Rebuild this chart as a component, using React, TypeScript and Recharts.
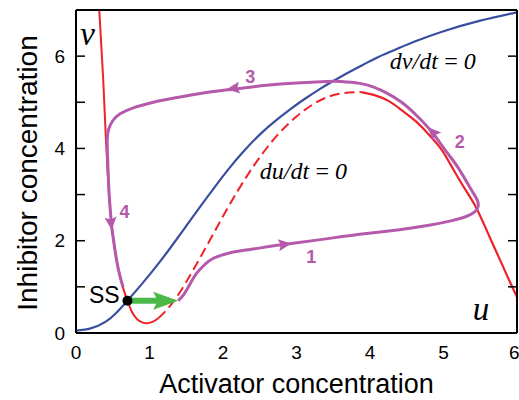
import React from 'react';
import { ComposedChart, Line, Scatter, XAxis, YAxis, Label } from 'recharts';

// ---------- data ----------
const X_DOMAIN = [0, 6];
const Y_DOMAIN = [0, 7];
const X_TICKS = [0, 1, 2, 3, 4, 5, 6];
const Y_TICKS = [0, 1, 2, 3, 4, 5, 6, 7];
const Y_LABEL_TICKS = [0, 2, 4, 6];

// dv/dt = 0 nullcline
const BLUE_NULLCLINE = [
  { x: 0, y: 0.05 }, { x: 0.2, y: 0.1 }, { x: 0.4, y: 0.24 }, { x: 0.55, y: 0.44 },
  { x: 0.7, y: 0.7 }, { x: 0.9, y: 1.07 }, { x: 1.1, y: 1.46 }, { x: 1.3, y: 1.88 },
  { x: 1.5, y: 2.32 }, { x: 1.7, y: 2.76 }, { x: 1.9, y: 3.19 }, { x: 2.1, y: 3.6 },
  { x: 2.3, y: 3.97 }, { x: 2.5, y: 4.3 }, { x: 2.7, y: 4.58 }, { x: 2.9, y: 4.83 },
  { x: 3.1, y: 5.06 }, { x: 3.3, y: 5.27 }, { x: 3.5, y: 5.46 }, { x: 3.7, y: 5.64 },
  { x: 3.9, y: 5.81 }, { x: 4.1, y: 5.97 }, { x: 4.3, y: 6.11 }, { x: 4.6, y: 6.31 },
  { x: 5.0, y: 6.54 }, { x: 5.5, y: 6.77 }, { x: 6.0, y: 6.95 },
];

// du/dt = 0 nullcline: left stable branch, unstable middle (dashed), right stable branch
const RED_LEFT = [
  { x: 0.317, y: 7.0 }, { x: 0.345, y: 6.2 }, { x: 0.37, y: 5.5 }, { x: 0.39, y: 4.8 },
  { x: 0.41, y: 4.1 }, { x: 0.43, y: 3.5 }, { x: 0.45, y: 3.0 }, { x: 0.475, y: 2.5 },
  { x: 0.51, y: 2.02 }, { x: 0.55, y: 1.6 }, { x: 0.6, y: 1.22 }, { x: 0.65, y: 0.93 },
  { x: 0.7, y: 0.7 }, { x: 0.76, y: 0.46 }, { x: 0.83, y: 0.3 }, { x: 0.9, y: 0.23 },
  { x: 0.96, y: 0.21 }, { x: 1.04, y: 0.24 }, { x: 1.12, y: 0.32 },
];
const RED_MIDDLE = [
  { x: 1.12, y: 0.32 }, { x: 1.25, y: 0.53 }, { x: 1.42, y: 0.9 }, { x: 1.6, y: 1.38 },
  { x: 1.8, y: 1.95 }, { x: 2.0, y: 2.53 }, { x: 2.2, y: 3.08 }, { x: 2.4, y: 3.58 },
  { x: 2.6, y: 4.02 }, { x: 2.8, y: 4.39 }, { x: 3.0, y: 4.69 }, { x: 3.2, y: 4.93 },
  { x: 3.4, y: 5.1 }, { x: 3.6, y: 5.19 }, { x: 3.8, y: 5.22 }, { x: 3.88, y: 5.22 },
];
const RED_RIGHT = [
  { x: 3.88, y: 5.22 }, { x: 4.05, y: 5.16 }, { x: 4.25, y: 5.03 }, { x: 4.43, y: 4.83 },
  { x: 4.63, y: 4.58 }, { x: 4.8, y: 4.3 }, { x: 4.975, y: 3.97 }, { x: 5.15, y: 3.5 },
  { x: 5.3, y: 3.1 }, { x: 5.45, y: 2.7 }, { x: 5.6, y: 2.18 }, { x: 5.75, y: 1.65 },
  { x: 5.9, y: 1.12 }, { x: 6.0, y: 0.78 },
];

// excitation trajectory (phases 1-4)
const TRAJECTORY = [
  { x: 1.39, y: 0.7 }, { x: 1.46, y: 0.82 }, { x: 1.54, y: 1.03 }, { x: 1.64, y: 1.29 },
  { x: 1.75, y: 1.48 }, { x: 1.87, y: 1.62 }, { x: 2.1, y: 1.74 }, { x: 2.37, y: 1.81 },
  { x: 2.65, y: 1.88 }, { x: 2.93, y: 1.94 }, { x: 3.4, y: 2.04 }, { x: 3.86, y: 2.14 },
  { x: 4.4, y: 2.24 }, { x: 4.82, y: 2.34 }, { x: 5.1, y: 2.43 }, { x: 5.3, y: 2.52 },
  { x: 5.42, y: 2.62 }, { x: 5.47, y: 2.74 }, { x: 5.46, y: 2.88 }, { x: 5.38, y: 3.1 },
  { x: 5.2, y: 3.58 }, { x: 5.02, y: 3.97 }, { x: 4.84, y: 4.36 }, { x: 4.63, y: 4.72 },
  { x: 4.43, y: 5.0 }, { x: 4.23, y: 5.2 }, { x: 4.05, y: 5.33 }, { x: 3.86, y: 5.41 },
  { x: 3.6, y: 5.45 }, { x: 3.41, y: 5.45 }, { x: 3.0, y: 5.42 }, { x: 2.59, y: 5.37 },
  { x: 2.07, y: 5.27 }, { x: 1.69, y: 5.19 }, { x: 1.23, y: 5.06 }, { x: 1.0, y: 4.98 },
  { x: 0.78, y: 4.88 }, { x: 0.6, y: 4.75 }, { x: 0.5, y: 4.6 }, { x: 0.445, y: 4.42 },
  { x: 0.425, y: 4.2 }, { x: 0.43, y: 3.8 }, { x: 0.445, y: 3.2 }, { x: 0.46, y: 2.8 },
  { x: 0.486, y: 2.3 }, { x: 0.51, y: 2.02 }, { x: 0.55, y: 1.6 }, { x: 0.6, y: 1.22 },
  { x: 0.64, y: 1.0 },
];

// arrowheads on trajectory: tip + direction (data units)
const TRAJ_ARROWS = [
  { x: 2.93, y: 1.94, dx: 1, dy: 0.21 },
  { x: 4.79, y: 4.46, dx: -1, dy: 1.7 },
  { x: 2.05, y: 5.28, dx: -1, dy: -0.21 },
  { x: 0.486, y: 2.23, dx: 0.06, dy: -1 },
];
const PHASE_LABELS = [
  { x: 3.2, y: 1.51, text: '1' },
  { x: 5.22, y: 4.0, text: '2' },
  { x: 2.37, y: 5.41, text: '3' },
  { x: 0.66, y: 2.49, text: '4' },
];

const STEADY_STATE = [{ x: 0.7, y: 0.7 }];
const PERTURBATION = [{ x: 0.7, y: 0.7 }, { x: 1.39, y: 0.7 }];
const PERTURBATION_TIP = [{ x: 1.39, y: 0.7, dx: 1, dy: 0 }];
const SS_LABEL = [{ x: 0.384, y: 0.644, text: 'SS' }];
const VAR_LABELS = [
  { x: 0.156, y: 6.24, text: 'v' },
  { x: 5.51, y: 0.28, text: 'u' },
];
const NULLCLINE_LABELS = [
  { x: 4.27, y: 5.72, text: 'dv/dt\u2009=\u20090' },
  { x: 2.5, y: 3.34, text: 'du/dt\u2009=\u20090' },
];

// ---------- layout / style ----------
const W = 519;
const H = 400;
const MARGIN = { top: 10, right: 2, bottom: 0, left: 0 };
const Y_AXIS_W = 76;
const X_AXIS_H = 67;
const PLOT_W = W - MARGIN.left - MARGIN.right - Y_AXIS_W;
const PLOT_H = H - MARGIN.top - MARGIN.bottom - X_AXIS_H;
const PX_X = PLOT_W / (X_DOMAIN[1] - X_DOMAIN[0]);
const PX_Y = PLOT_H / (Y_DOMAIN[1] - Y_DOMAIN[0]);

const SANS = '"Liberation Sans", Arial, Helvetica, sans-serif';
const SERIF = '"Liberation Serif", "Times New Roman", serif';
const RED = '#ee2229';
const BLUE = '#3a4ea0';
const MAGENTA = '#b55aab';
const GREEN = '#4cb848';

const EmptyTick = () => <g />;

const arrowShape = (color: string, len: number, half: number) => (props: any) => {
  const { cx, cy, payload } = props;
  if (cx == null || cy == null) return <g />;
  const ang = (Math.atan2(-payload.dy * PX_Y, payload.dx * PX_X) * 180) / Math.PI;
  return (
    <polygon
      points={`0,0 ${-len},${-half} ${-len * 0.82},0 ${-len},${half}`}
      fill={color}
      transform={`translate(${cx},${cy}) rotate(${ang})`}
    />
  );
};

const textShape = (style: any, anchor: string) => (props: any) => {
  const { cx, cy, payload } = props;
  if (cx == null || cy == null) return <g />;
  return (
    <text x={cx} y={cy} textAnchor={anchor} style={style}>
      {payload.text}
    </text>
  );
};

const dotShape = (props: any) => {
  const { cx, cy } = props;
  if (cx == null || cy == null) return <g />;
  return <circle cx={cx} cy={cy} r={5} fill="#000" />;
};

const YTitle = () => {
  const cx = 37;
  const cy = MARGIN.top + PLOT_H / 2 + 1.5;
  return (
    <text
      x={cx}
      y={cy}
      transform={`rotate(-90 ${cx} ${cy})`}
      textAnchor="middle"
      style={{ fontSize: 28, fontFamily: SANS, fill: '#000' }}
    >
      Inhibitor concentration
    </text>
  );
};

const axisStroke = { stroke: '#000', strokeWidth: 2 };
const tickStroke = { stroke: '#000', strokeWidth: 1.5 };
const tickFont = { fontSize: 19, fill: '#000', fontFamily: SANS };

export default function App() {
  return (
    <div style={{ position: 'absolute', left: 0, top: 0 }}>
      <ComposedChart width={W} height={H} margin={MARGIN}>
        <XAxis
          xAxisId="x"
          type="number"
          dataKey="x"
          domain={X_DOMAIN}
          ticks={X_TICKS}
          allowDataOverflow
          height={X_AXIS_H}
          tickLine={false}
          tickSize={0}
          tickMargin={13}
          axisLine={axisStroke}
          tick={tickFont}
        >
          <Label
            value="Activator concentration"
            position="insideBottom"
            offset={7}
            style={{ fontSize: 27, fontFamily: SANS, fill: '#000' }}
          />
        </XAxis>
        <XAxis
          xAxisId="xb"
          type="number"
          domain={X_DOMAIN}
          ticks={X_TICKS}
          allowDataOverflow
          orientation="bottom"
          mirror
          tickSize={9}
          tickLine={tickStroke}
          axisLine={false}
          tick={EmptyTick}
        />
        <XAxis
          xAxisId="xt"
          type="number"
          domain={X_DOMAIN}
          ticks={X_TICKS}
          allowDataOverflow
          orientation="top"
          mirror
          tickSize={9}
          tickLine={tickStroke}
          axisLine={axisStroke}
          tick={EmptyTick}
        />
        <YAxis
          yAxisId="y"
          type="number"
          domain={Y_DOMAIN}
          ticks={Y_LABEL_TICKS}
          allowDataOverflow
          width={Y_AXIS_W}
          tickLine={false}
          tickSize={0}
          tickMargin={11}
          axisLine={axisStroke}
          tick={tickFont}
        >
          <Label content={<YTitle />} />
        </YAxis>
        <YAxis
          yAxisId="yl"
          type="number"
          domain={Y_DOMAIN}
          ticks={Y_TICKS}
          allowDataOverflow
          orientation="left"
          mirror
          tickSize={9}
          tickLine={tickStroke}
          axisLine={false}
          tick={EmptyTick}
        />
        <YAxis
          yAxisId="yr"
          type="number"
          domain={Y_DOMAIN}
          ticks={Y_TICKS}
          allowDataOverflow
          orientation="right"
          mirror
          tickSize={9}
          tickLine={tickStroke}
          axisLine={axisStroke}
          tick={EmptyTick}
        />

        <Line xAxisId="x" yAxisId="y" data={BLUE_NULLCLINE} dataKey="y" type="natural"
          stroke={BLUE} strokeWidth={2.2} dot={false} activeDot={false} isAnimationActive={false} />
        <Line xAxisId="x" yAxisId="y" data={RED_LEFT} dataKey="y" type="monotone"
          stroke={RED} strokeWidth={2} dot={false} activeDot={false} isAnimationActive={false} />
        <Line xAxisId="x" yAxisId="y" data={RED_MIDDLE} dataKey="y" type="natural"
          stroke={RED} strokeWidth={2} strokeDasharray="10 5" dot={false} activeDot={false} isAnimationActive={false} />
        <Line xAxisId="x" yAxisId="y" data={RED_RIGHT} dataKey="y" type="natural"
          stroke={RED} strokeWidth={2.2} dot={false} activeDot={false} isAnimationActive={false} />
        <Line xAxisId="x" yAxisId="y" data={TRAJECTORY} dataKey="y" type="natural"
          stroke={MAGENTA} strokeWidth={3} dot={false} activeDot={false} isAnimationActive={false} />
        <Scatter xAxisId="x" yAxisId="y" data={TRAJ_ARROWS} dataKey="y"
          shape={arrowShape(MAGENTA, 13, 6)} isAnimationActive={false} />
        <Line xAxisId="x" yAxisId="y" data={PERTURBATION} dataKey="y" type="linear"
          stroke={GREEN} strokeWidth={6} strokeDasharray="36 1000" dot={false} activeDot={false} isAnimationActive={false} />
        <Scatter xAxisId="x" yAxisId="y" data={PERTURBATION_TIP} dataKey="y"
          shape={arrowShape(GREEN, 25, 9)} isAnimationActive={false} />
        <Scatter xAxisId="x" yAxisId="y" data={STEADY_STATE} dataKey="y"
          shape={dotShape} isAnimationActive={false} />

        <Scatter xAxisId="x" yAxisId="y" data={PHASE_LABELS} dataKey="y"
          shape={textShape({ fontSize: 18, fontWeight: 'bold', fontFamily: SANS, fill: MAGENTA }, 'middle')}
          isAnimationActive={false} />
        <Scatter xAxisId="x" yAxisId="y" data={SS_LABEL} dataKey="y"
          shape={textShape({ fontSize: 23, fontFamily: SANS, fill: '#000' }, 'middle')}
          isAnimationActive={false} />
        <Scatter xAxisId="x" yAxisId="y" data={VAR_LABELS} dataKey="y"
          shape={textShape({ fontSize: 33, fontStyle: 'italic', fontFamily: SERIF, fill: '#000' }, 'middle')}
          isAnimationActive={false} />
        <Scatter xAxisId="x" yAxisId="y" data={NULLCLINE_LABELS} dataKey="y"
          shape={textShape({ fontSize: 24, fontStyle: 'italic', fontFamily: SERIF, fill: '#000' }, 'start')}
          isAnimationActive={false} />
      </ComposedChart>
    </div>
  );
}
